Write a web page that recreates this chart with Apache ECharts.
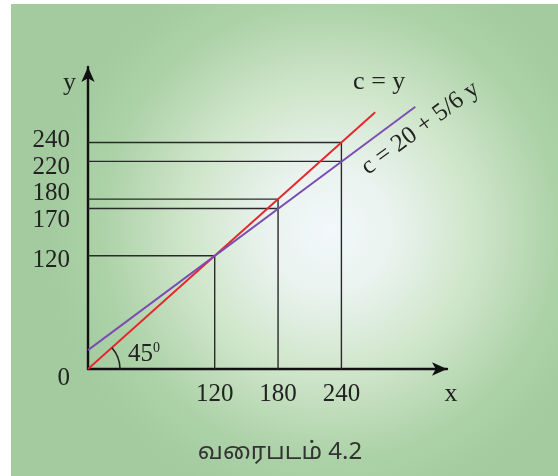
<!DOCTYPE html>
<html><head><meta charset="utf-8">
<script src="https://cdn.jsdelivr.net/npm/echarts@6/dist/echarts.min.js"></script>
<style>html,body{margin:0;padding:0;background:#fff}#c{width:558px;height:476px}</style>
</head><body><div id="c"></div>
<script>
// ---- data ----
const xTicks = [120, 180, 240];
const yTicks = [0, 120, 170, 180, 220, 240];
const redAtTicks = [120, 180, 240];      // c = y at the x ticks
const purpleAtTicks = [120, 170, 220];   // c = 20 + 5/6 y at the x ticks
const redLine = [[0, 0], [272, 272]];
const purpleLine = [[0, 20], [310, 278]];
const xAxisName = 'x';
const yAxisName = 'y';
const redLabel = 'c = y';
const purpleLabel = 'c = 20 + 5/6 y';
const angleLabel = ['45', '0'];
const caption = 'வரைபடம் 4.2';

const serif = '"Liberation Serif", "DejaVu Serif", serif';
const chart = echarts.init(document.getElementById('c'));

// small vertical nudges so crowded tick labels stay readable
const nudge = {0: [18,0,0,0], 120: [10,0,0,0], 170: [24,0,0,0], 180: [0,0,12,0], 220: [12,0,0,0], 240: [0,0,4,0]};
const yRich = {};
yTicks.forEach(v => { yRich['t' + v] = {padding: nudge[v] || [0,0,0,0], fontFamily: serif, fontSize: 25, color: '#222'}; });

const guides = [];
xTicks.forEach((x, i) => {
  const top = Math.max(redAtTicks[i], purpleAtTicks[i]);
  guides.push([[x, 0], [x, top]]);
  guides.push([[0, redAtTicks[i]], [x, redAtTicks[i]]]);
  if (purpleAtTicks[i] !== redAtTicks[i]) guides.push([[0, purpleAtTicks[i]], [x, purpleAtTicks[i]]]);
});

const axisLine = {show: true, symbol: ['none', 'arrow'], symbolSize: [10, 15], lineStyle: {color: '#111', width: 2.4}};

chart.setOption({
  animation: false,
  grid: {left: 88, top: 67, width: 359, height: 302},
  xAxis: {
    type: 'value', min: 0, max: 340,
    splitLine: {show: false}, axisTick: {show: false}, axisLine: axisLine,
    axisLabel: {customValues: xTicks, fontFamily: serif, fontSize: 25, color: '#222', margin: 13, hideOverlap: false},
    name: xAxisName, nameLocation: 'end', nameGap: 4,
    nameTextStyle: {fontFamily: serif, fontSize: 26, color: '#222', align: 'center', verticalAlign: 'top', padding: [12, 0, 0, 0]}
  },
  yAxis: {
    type: 'value', min: 0, max: 320,
    splitLine: {show: false}, axisTick: {show: false}, axisLine: axisLine,
    axisLabel: {customValues: yTicks, margin: 18, hideOverlap: false,
      formatter: v => '{t' + v + '|' + v + '}', rich: yRich},
    name: yAxisName, nameLocation: 'end', nameGap: -16,
    nameTextStyle: {fontFamily: serif, fontSize: 26, color: '#222', align: 'right', verticalAlign: 'middle', padding: [0, 12, 0, 0]}
  },
  series: guides.map(d => ({type: 'line', data: d, symbol: 'none', silent: true, z: 1,
      lineStyle: {color: '#2a2a2a', width: 1.4}}))
    .concat([
      {type: 'line', data: redLine, symbol: 'none', z: 3, lineStyle: {color: '#e6262b', width: 1.9}},
      {type: 'line', data: purpleLine, symbol: 'none', z: 3, lineStyle: {color: '#7b4db3', width: 1.9}}
    ])
});

const px = p => chart.convertToPixel({gridIndex: 0}, p);
const o = px([0, 0]);
const rEnd = px(redLine[1]);
const pA = px(purpleLine[0]), pB = px(purpleLine[1]);
const angP = Math.atan2(pA[1] - pB[1], pB[0] - pA[0]);
const angR = Math.atan2(o[1] - rEnd[1], rEnd[0] - o[0]);
const pLab = px([250, 20 + 5 / 6 * 250]);

chart.setOption({
  graphic: [
    {type: 'rect', silent: true, z: -100, shape: {x: 11, y: 4, width: 547, height: 472},
      style: {fill: {type: 'radial', x: 0.583, y: 0.48, r: 0.6, colorStops: [
        {offset: 0, color: '#f2f8fb'}, {offset: 0.22, color: '#eaf3ef'},
        {offset: 0.5, color: '#d0e6cb'}, {offset: 0.8, color: '#add2a8'}, {offset: 1, color: '#a3cb9f'}]}}},
    {type: 'text', silent: true, z: 10, x: rEnd[0] + 4, y: rEnd[1] - 30,
      style: {text: redLabel, fontFamily: serif, fontSize: 26, fill: '#222', align: 'center', verticalAlign: 'middle'}},
    {type: 'text', silent: true, z: 10, x: pLab[0] + Math.sin(angP) * 8, y: pLab[1] + Math.cos(angP) * 8, rotation: angP,
      style: {text: purpleLabel, fontFamily: serif, fontSize: 25, fill: '#222', align: 'left', verticalAlign: 'top'}},
    {type: 'arc', silent: true, z: 10, shape: {cx: o[0], cy: o[1], r: 32, startAngle: -angR, endAngle: 0, clockwise: true},
      style: {stroke: '#222', lineWidth: 1.6, fill: null}},
    {type: 'text', silent: true, z: 10, x: o[0] + 40, y: o[1] - 15,
      style: {text: '{a|' + angleLabel[0] + '}{b|' + angleLabel[1] + '}', verticalAlign: 'middle', align: 'left',
        rich: {a: {fontFamily: serif, fontSize: 25, fill: '#222'}, b: {fontFamily: serif, fontSize: 14, fill: '#222', verticalAlign: 'top'}}}},
    {type: 'text', silent: true, z: 10, x: 280, y: 452,
      style: {text: caption, fontFamily: '"Noto Sans", "Noto Sans Tamil", "DejaVu Sans", sans-serif', fontSize: 24, fill: '#333', align: 'center', verticalAlign: 'middle'}}
  ]
});
</script></body></html>
